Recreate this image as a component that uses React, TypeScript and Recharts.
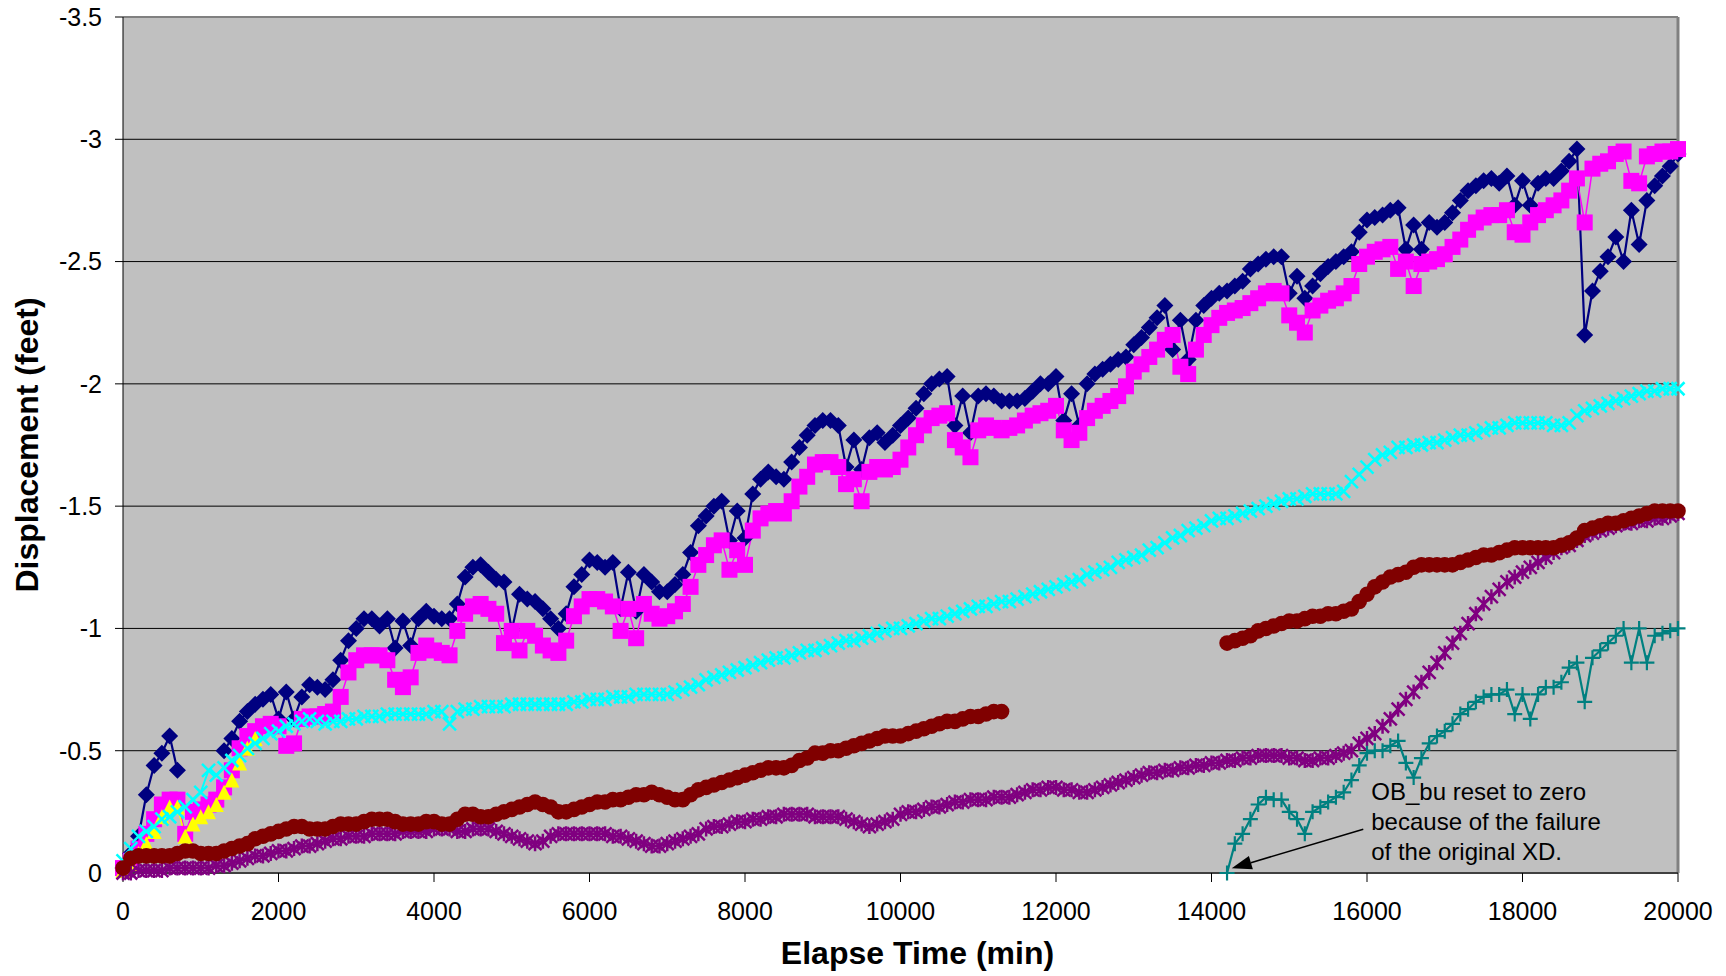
import React from 'react';
import { LineChart, Line, XAxis, YAxis, CartesianGrid, ReferenceLine, Label } from 'recharts';

// ---------- data (sampled every 100 min) ----------
const TIME_STEP = 100;
const X_TICKS = [0, 2000, 4000, 6000, 8000, 10000, 12000, 14000, 16000, 18000, 20000];
const Y_TICKS = [-3.5, -3, -2.5, -2, -1.5, -1, -0.5, 0];

const NAVY: (number | null)[] = [
  -0.02, -0.08, -0.15, -0.32, -0.44, -0.49, -0.56, -0.42, null, null,
  null, null, null, -0.5, -0.55, -0.62, -0.66, -0.69, -0.71, -0.73,
  -0.63, -0.74, -0.63, -0.72, -0.77, -0.76, -0.75, -0.79, -0.87, -0.95,
  -1.0, -1.04, -1.04, -1.01, -1.04, -0.92, -1.03, -0.93, -1.04, -1.07,
  -1.05, -1.04, -1.04, -1.1, -1.21, -1.25, -1.26, -1.23, -1.2, -1.19,
  -0.99, -1.14, -1.12, -1.11, -1.08, -1.04, -1.0, -1.06, -1.17, -1.22,
  -1.28, -1.27, -1.25, -1.27, -1.08, -1.23, -1.07, -1.22, -1.19, -1.15,
  -1.15, -1.18, -1.22, -1.31, -1.42, -1.46, -1.5, -1.52, -1.36, -1.48,
  -1.37, -1.55, -1.61, -1.64, -1.62, -1.61, -1.68, -1.74, -1.79, -1.83,
  -1.85, -1.85, -1.83, -1.66, -1.77, -1.65, -1.78, -1.8, -1.76, -1.79,
  -1.83, -1.86, -1.9, -1.96, -2.0, -2.02, -2.03, -1.83, -1.95, -1.8,
  -1.95, -1.96, -1.95, -1.93, -1.93, -1.93, -1.94, -1.97, -2.0, -2.0,
  -2.03, -1.85, -1.96, -1.83, -2.0, -2.04, -2.06, -2.08, -2.1, -2.11,
  -2.16, -2.19, -2.23, -2.27, -2.32, -2.14, -2.26, -2.1, -2.26, -2.32,
  -2.35, -2.37, -2.38, -2.4, -2.42, -2.47, -2.49, -2.51, -2.52, -2.52,
  -2.37, -2.44, -2.35, -2.4, -2.45, -2.48, -2.5, -2.52, -2.54, -2.62,
  -2.67, -2.68, -2.69, -2.71, -2.72, -2.55, -2.65, -2.55, -2.66, -2.64,
  -2.66, -2.7, -2.75, -2.79, -2.81, -2.83, -2.84, -2.82, -2.85, -2.73,
  -2.83, -2.73, -2.82, -2.84, -2.84, -2.87, -2.91, -2.96, -2.2, -2.38,
  -2.46, -2.52, -2.6, -2.5, -2.71, -2.57, -2.75, -2.81, -2.85, -2.89,
  -2.94,
];

const MAGENTA: number[] = [
  -0.02, -0.05, -0.1, -0.16, -0.22, -0.28, -0.3, -0.3, -0.16, -0.25,
  -0.26, -0.28, -0.3, -0.35, -0.42, -0.51, -0.56, -0.58, -0.6, -0.61,
  -0.6, -0.52, -0.53, -0.63, -0.64, -0.64, -0.65, -0.66, -0.72, -0.82,
  -0.87, -0.89, -0.89, -0.89, -0.87, -0.79, -0.76, -0.8, -0.9, -0.93,
  -0.91, -0.9, -0.89, -0.99, -1.06, -1.09, -1.1, -1.08, -1.06, -0.94,
  -0.99, -0.91, -0.99, -0.97, -0.93, -0.91, -0.9, -0.95, -1.05, -1.09,
  -1.12, -1.12, -1.11, -1.09, -0.99, -1.08, -0.96, -1.1, -1.06, -1.04,
  -1.05, -1.07, -1.1, -1.17, -1.26, -1.3, -1.34, -1.36, -1.24, -1.32,
  -1.26, -1.4, -1.45, -1.47, -1.48, -1.47, -1.52, -1.58, -1.62, -1.67,
  -1.68, -1.68, -1.66, -1.59, -1.61, -1.52, -1.64, -1.66, -1.65, -1.66,
  -1.69, -1.74, -1.79, -1.83, -1.86, -1.87, -1.88, -1.77, -1.74, -1.7,
  -1.81, -1.83, -1.82, -1.81, -1.82, -1.83, -1.85, -1.87, -1.88, -1.89,
  -1.91, -1.81, -1.77, -1.8, -1.86, -1.89, -1.91, -1.93, -1.95, -1.99,
  -2.05, -2.08, -2.11, -2.14, -2.18, -2.2, -2.07, -2.04, -2.14, -2.2,
  -2.24, -2.27, -2.29, -2.3, -2.31, -2.33, -2.35, -2.37, -2.38, -2.37,
  -2.28, -2.25, -2.21, -2.3, -2.32, -2.34, -2.35, -2.37, -2.4, -2.49,
  -2.52, -2.54, -2.55, -2.56, -2.47, -2.5, -2.4, -2.49, -2.5, -2.51,
  -2.53, -2.56, -2.59, -2.63, -2.66, -2.68, -2.69, -2.69, -2.71, -2.62,
  -2.61, -2.66, -2.69, -2.71, -2.73, -2.75, -2.79, -2.84, -2.66, -2.88,
  -2.9, -2.91, -2.94, -2.95, -2.83, -2.82, -2.93, -2.94, -2.95, -2.95,
  -2.96,
];

// yellow: from t = 0 to 1700
const YELLOW: number[] = [
  -0.01, -0.04, -0.08, -0.12, -0.17, -0.23, -0.27, -0.27, -0.15, -0.2,
  -0.23, -0.25, -0.28, -0.33, -0.38, -0.45, -0.51, -0.55,
];

const CYAN: number[] = [
  -0.05, -0.1, -0.15, -0.17, -0.19, -0.22, -0.23, -0.25, -0.27, -0.3,
  -0.33, -0.42, -0.4, -0.43, -0.46, -0.48, -0.51, -0.53, -0.55, -0.57,
  -0.58, -0.6, -0.61, -0.62, -0.63, -0.62, -0.61, -0.62, -0.62, -0.63,
  -0.63, -0.64, -0.64, -0.64, -0.65, -0.65, -0.65, -0.65, -0.65, -0.65,
  -0.66, -0.66, -0.61, -0.66, -0.67, -0.67, -0.68, -0.68, -0.68, -0.68,
  -0.69, -0.69, -0.69, -0.69, -0.69, -0.69, -0.69, -0.69, -0.7, -0.7,
  -0.71, -0.71, -0.71, -0.72, -0.72, -0.72, -0.73, -0.73, -0.73, -0.73,
  -0.73, -0.74, -0.75, -0.76, -0.77, -0.79, -0.8, -0.81, -0.82, -0.83,
  -0.84, -0.85, -0.86, -0.87, -0.88, -0.88, -0.89, -0.9, -0.91, -0.91,
  -0.92, -0.93, -0.94, -0.95, -0.95, -0.96, -0.97, -0.98, -0.99, -1.0,
  -1.0, -1.01, -1.02, -1.03, -1.04, -1.04, -1.05, -1.06, -1.07, -1.08,
  -1.09, -1.09, -1.1, -1.11, -1.11, -1.12, -1.13, -1.14, -1.15, -1.16,
  -1.17, -1.18, -1.19, -1.2, -1.22, -1.23, -1.24, -1.25, -1.27, -1.28,
  -1.29, -1.3, -1.32, -1.33, -1.35, -1.37, -1.38, -1.4, -1.41, -1.42,
  -1.44, -1.45, -1.45, -1.46, -1.47, -1.48, -1.49, -1.5, -1.51, -1.52,
  -1.53, -1.53, -1.54, -1.55, -1.55, -1.55, -1.55, -1.56, -1.6, -1.63,
  -1.66, -1.69, -1.71, -1.72, -1.74, -1.74, -1.75, -1.75, -1.76, -1.76,
  -1.77, -1.78, -1.79, -1.79, -1.8, -1.81, -1.82, -1.82, -1.83, -1.84,
  -1.84, -1.84, -1.84, -1.84, -1.83, -1.83, -1.84, -1.87, -1.89, -1.9,
  -1.91, -1.92, -1.93, -1.94, -1.95, -1.96, -1.97, -1.97, -1.98, -1.98,
  -1.98,
];

const PURPLE: number[] = [
  0, 0, -0.01, -0.01, -0.01, -0.01, -0.02, -0.02, -0.02, -0.02,
  -0.02, -0.02, -0.03, -0.03, -0.04, -0.05, -0.06, -0.07, -0.07, -0.08,
  -0.09, -0.09, -0.1, -0.11, -0.11, -0.12, -0.13, -0.14, -0.14, -0.15,
  -0.15, -0.15, -0.16, -0.16, -0.16, -0.16, -0.17, -0.17, -0.17, -0.17,
  -0.18, -0.18, -0.18, -0.17, -0.17, -0.18, -0.18, -0.18, -0.17, -0.16,
  -0.15, -0.14, -0.13, -0.12, -0.13, -0.15, -0.16, -0.16, -0.16, -0.16,
  -0.16, -0.16, -0.16, -0.15, -0.15, -0.14, -0.13, -0.12, -0.11, -0.11,
  -0.12, -0.13, -0.14, -0.15, -0.16, -0.18, -0.19, -0.19, -0.2, -0.21,
  -0.21, -0.22, -0.22, -0.23, -0.23, -0.24, -0.24, -0.24, -0.24, -0.23,
  -0.23, -0.23, -0.23, -0.22, -0.21, -0.2, -0.19, -0.2, -0.21, -0.22,
  -0.24, -0.25, -0.25, -0.26, -0.27, -0.27, -0.28, -0.29, -0.29, -0.3,
  -0.3, -0.3, -0.31, -0.31, -0.31, -0.32, -0.33, -0.34, -0.34, -0.35,
  -0.35, -0.34, -0.34, -0.33, -0.33, -0.34, -0.35, -0.36, -0.37, -0.38,
  -0.39, -0.4, -0.41, -0.41, -0.42, -0.42, -0.43, -0.43, -0.44, -0.44,
  -0.45, -0.45, -0.46, -0.46, -0.47, -0.47, -0.48, -0.48, -0.48, -0.48,
  -0.47, -0.47, -0.46, -0.46, -0.47, -0.47, -0.48, -0.49, -0.5, -0.53,
  -0.55, -0.57, -0.6, -0.63, -0.67, -0.71, -0.74, -0.78, -0.82, -0.86,
  -0.9, -0.94, -0.98, -1.02, -1.06, -1.1, -1.13, -1.16, -1.19, -1.21,
  -1.23, -1.25, -1.27, -1.29, -1.31, -1.33, -1.34, -1.36, -1.38, -1.39,
  -1.4, -1.41, -1.42, -1.43, -1.43, -1.44, -1.44, -1.45, -1.45, -1.46,
  -1.47,
];

// dark red, first run: t = 0 .. 11300
const DARKRED_A: number[] = [
  -0.02, -0.06, -0.07, -0.07, -0.07, -0.07, -0.07, -0.08, -0.09, -0.09,
  -0.08, -0.08, -0.08, -0.09, -0.1, -0.11, -0.12, -0.14, -0.15, -0.16,
  -0.17, -0.18, -0.19, -0.19, -0.18, -0.18, -0.18, -0.19, -0.2, -0.2,
  -0.2, -0.21, -0.22, -0.22, -0.22, -0.21, -0.2, -0.2, -0.2, -0.21,
  -0.21, -0.2, -0.2, -0.22, -0.24, -0.24, -0.23, -0.23, -0.24, -0.25,
  -0.26, -0.27, -0.28, -0.29, -0.28, -0.27, -0.25, -0.25, -0.26, -0.27,
  -0.28, -0.29, -0.29, -0.3, -0.3, -0.31, -0.32, -0.32, -0.33, -0.32,
  -0.31, -0.3, -0.3, -0.32, -0.34, -0.35, -0.36, -0.37, -0.38, -0.39,
  -0.4, -0.41, -0.42, -0.43, -0.43, -0.43, -0.44, -0.46, -0.47, -0.49,
  -0.49, -0.5, -0.5, -0.51, -0.52, -0.53, -0.54, -0.55, -0.56, -0.56,
  -0.56, -0.57, -0.58, -0.59, -0.6, -0.61, -0.62, -0.62, -0.63, -0.64,
  -0.64, -0.65, -0.66, -0.66,
];

// second runs start at t = 14200
const LATE_START = 14200;
const DARKRED_B: number[] = [
  -0.94, -0.95, -0.96, -0.97, -0.99, -1.0, -1.01, -1.02,
  -1.03, -1.03, -1.04, -1.05, -1.05, -1.06, -1.06, -1.07, -1.08, -1.11,
  -1.14, -1.17, -1.19, -1.21, -1.22, -1.23, -1.25, -1.26, -1.26, -1.26,
  -1.26, -1.26, -1.27, -1.28, -1.29, -1.3, -1.3, -1.31, -1.32, -1.33,
  -1.33, -1.33, -1.33, -1.33, -1.33, -1.34, -1.35, -1.37, -1.4, -1.41,
  -1.42, -1.43, -1.43, -1.44, -1.45, -1.46, -1.47, -1.48, -1.48, -1.48,
  -1.48,
];

const TEAL: number[] = [
  0, -0.12, -0.16, -0.22, -0.28, -0.31, -0.3, -0.3,
  -0.25, -0.22, -0.16, -0.25, -0.27, -0.29, -0.31, -0.33, -0.38, -0.44,
  -0.49, -0.5, -0.5, -0.52, -0.54, -0.45, -0.39, -0.47, -0.53, -0.56,
  -0.58, -0.61, -0.65, -0.67, -0.7, -0.72, -0.73, -0.73, -0.75, -0.65,
  -0.73, -0.63, -0.73, -0.76, -0.76, -0.78, -0.84, -0.86, -0.7, -0.88,
  -0.91, -0.94, -0.97, -1.0, -0.86, -1.0, -0.86, -0.97, -0.98, -0.99,
  -1.0,
];

// annotation arrow: from text corner to the start of the OB_bu trace
const NOTE_FROM = { x: 15952, y: -0.179 };
const NOTE_TO = { x: 14260, y: -0.019 };
const NOTE_LINES = ['OB_bu reset to zero', 'because of the failure', 'of the original XD.'];

const lateIdx = LATE_START / TIME_STEP;
const DATA = NAVY.map((navy, i) => ({
  t: i * TIME_STEP,
  navy,
  magenta: MAGENTA[i] ?? null,
  yellow: YELLOW[i] ?? null,
  cyan: CYAN[i] ?? null,
  purple: PURPLE[i] ?? null,
  darkred: i < DARKRED_A.length ? DARKRED_A[i] : i >= lateIdx ? DARKRED_B[i - lateIdx] ?? null : null,
  teal: i >= lateIdx ? TEAL[i - lateIdx] ?? null : null,
}));

// ---------- marker shapes ----------
type Kind = 'diamond' | 'square' | 'triangle' | 'x' | 'circle' | 'star' | 'plus';

const makeDot = (kind: Kind, color: string) => (p: any) => {
  const { cx, cy, value, index } = p;
  const key = `${kind}-${index}`;
  if (cx == null || cy == null || value == null || Number.isNaN(cx) || Number.isNaN(cy)) return <g key={key} />;
  switch (kind) {
    case 'diamond': {
      const r = 8.5;
      return <polygon key={key} points={`${cx},${cy - r} ${cx + r},${cy} ${cx},${cy + r} ${cx - r},${cy}`} fill={color} />;
    }
    case 'square': {
      const h = 8;
      return <rect key={key} x={cx - h} y={cy - h} width={h * 2} height={h * 2} fill={color} />;
    }
    case 'triangle': {
      const h = 7.5;
      return <polygon key={key} points={`${cx},${cy - h} ${cx + h},${cy + h} ${cx - h},${cy + h}`} fill={color} />;
    }
    case 'circle':
      return <circle key={key} cx={cx} cy={cy} r={7.8} fill={color} />;
    case 'x': {
      const h = 6.5;
      return (
        <path key={key} d={`M${cx - h},${cy - h}L${cx + h},${cy + h}M${cx - h},${cy + h}L${cx + h},${cy - h}`} stroke={color} strokeWidth={2.5} fill="none" />
      );
    }
    case 'star': {
      const h = 6.5;
      return (
        <path key={key} d={`M${cx - h},${cy - h}L${cx + h},${cy + h}M${cx - h},${cy + h}L${cx + h},${cy - h}M${cx},${cy - h - 1}L${cx},${cy + h + 1}`} stroke={color} strokeWidth={2.5} fill="none" />
      );
    }
    case 'plus': {
      const h = 7.5;
      return (
        <path key={key} d={`M${cx - h},${cy}L${cx + h},${cy}M${cx},${cy - h}L${cx},${cy + h}`} stroke={color} strokeWidth={2.2} fill="none" />
      );
    }
  }
  return <g key={key} />;
};

const FONT = '"Liberation Sans", Arial, sans-serif';

const NoteArrow = (p: any) => {
  const { x1, y1, x2, y2 } = p;
  if ([x1, y1, x2, y2].some((v) => v == null || Number.isNaN(v))) return <g />;
  const dx = x2 - x1;
  const dy = y2 - y1;
  const len = Math.sqrt(dx * dx + dy * dy);
  const ux = dx / len;
  const uy = dy / len;
  const hl = 20;
  const hw = 7;
  const bx = x2 - ux * hl;
  const by = y2 - uy * hl;
  return (
    <g>
      <line x1={x1} y1={y1} x2={bx} y2={by} stroke="#000" strokeWidth={1.6} />
      <polygon points={`${x2},${y2} ${bx - uy * hw},${by + ux * hw} ${bx + uy * hw},${by - ux * hw}`} fill="#000" />
      {NOTE_LINES.map((s, i) => (
        <text key={s} x={x1 + 8} y={y1 - 29 + i * 30} fontSize={24} fontFamily={FONT} fill="#000">
          {s}
        </text>
      ))}
    </g>
  );
};

export default function App() {
  return (
    <div style={{ position: 'absolute', left: 0, top: 0, width: 1726, height: 976, background: '#fff' }}>
      <LineChart
        width={1726}
        height={976}
        data={DATA}
        margin={{ top: 17, right: 48, bottom: 43, left: 23 }}
        style={{ fontFamily: FONT }}
      >
        <CartesianGrid vertical={false} stroke="#000" strokeWidth={1} fill="#C0C0C0" fillOpacity={1} />
        <XAxis
          dataKey="t"
          type="number"
          domain={[0, 20000]}
          ticks={X_TICKS}
          interval={0}
          height={60}
          tickSize={9}
          tickMargin={20}
          axisLine={{ stroke: '#404040', strokeWidth: 2 }}
          tickLine={{ stroke: '#000', strokeWidth: 1 }}
          tick={{ fill: '#000', fontSize: 25, fontFamily: FONT }}
        >
          <Label
            content={(props: any) => {
              const vb = props.viewBox || {};
              return (
                <text x={vb.x + vb.width / 2 + 17} y={vb.y + 80} textAnchor="middle" dominantBaseline="central" fontSize={32} fontWeight="bold" fontFamily={FONT} fill="#000">
                  Elapse Time (min)
                </text>
              );
            }}
          />
        </XAxis>
        <YAxis
          type="number"
          domain={[-3.5, 0]}
          reversed
          ticks={Y_TICKS}
          interval={0}
          width={100}
          tickSize={8}
          tickMargin={13}
          axisLine={{ stroke: '#000', strokeWidth: 1 }}
          tickLine={{ stroke: '#000', strokeWidth: 1 }}
          tick={{ fill: '#000', fontSize: 25, fontFamily: FONT }}
        >
          <Label
            content={(props: any) => {
              const vb = props.viewBox || {};
              const cx = vb.x + 4;
              const cy = vb.y + vb.height / 2;
              return (
                <text x={cx} y={cy} transform={`rotate(-90 ${cx} ${cy})`} textAnchor="middle" dominantBaseline="central" fontSize={32} fontWeight="bold" fontFamily={FONT} fill="#000">
                  Displacement (feet)
                </text>
              );
            }}
          />
        </YAxis>
        <ReferenceLine y={-3.5} stroke="#808080" strokeWidth={2} />
        <ReferenceLine x={20000} stroke="#808080" strokeWidth={3} />

        <Line dataKey="navy" stroke="#000080" strokeWidth={2.2} dot={makeDot('diamond', '#000080')} activeDot={false} isAnimationActive={false} connectNulls={false} />
        <Line dataKey="magenta" stroke="#FF00FF" strokeWidth={1.5} dot={makeDot('square', '#FF00FF')} activeDot={false} isAnimationActive={false} connectNulls={false} />
        <Line dataKey="yellow" stroke="#FFFF00" strokeWidth={1.5} dot={makeDot('triangle', '#FFFF00')} activeDot={false} isAnimationActive={false} connectNulls={false} />
        <Line dataKey="cyan" stroke="#00FFFF" strokeWidth={2} dot={makeDot('x', '#00FFFF')} activeDot={false} isAnimationActive={false} connectNulls={false} />
        <Line dataKey="purple" stroke="#800080" strokeWidth={3} dot={makeDot('star', '#800080')} activeDot={false} isAnimationActive={false} connectNulls={false} />
        <Line dataKey="darkred" stroke="#800000" strokeWidth={8} dot={makeDot('circle', '#800000')} activeDot={false} isAnimationActive={false} connectNulls={false} />
        <Line dataKey="teal" stroke="#008080" strokeWidth={2.2} dot={makeDot('plus', '#008080')} activeDot={false} isAnimationActive={false} connectNulls={false} />

        <ReferenceLine segment={[NOTE_FROM, NOTE_TO]} ifOverflow="visible" stroke="#000" shape={(p: any) => <NoteArrow {...p} />} />
      </LineChart>
    </div>
  );
}
